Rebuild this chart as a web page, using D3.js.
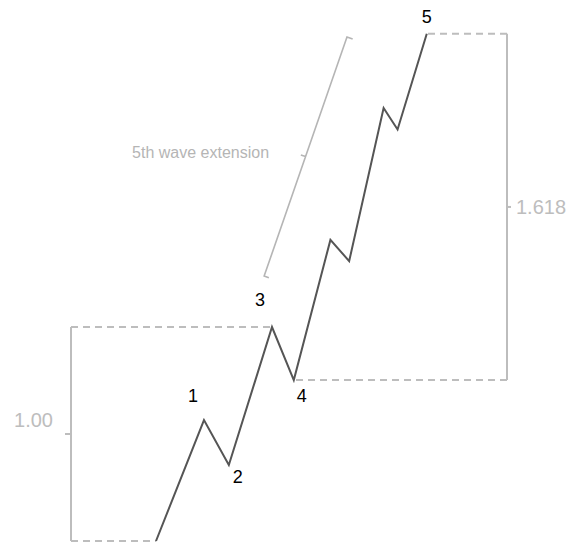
<!DOCTYPE html>
<html>
<head>
<meta charset="utf-8">
<script src="https://d3js.org/d3.v7.min.js"></script>
<style>
    body { margin: 0; background: #fff; }
    svg { display: block; font-family: "Liberation Sans", Arial, sans-serif; }
</style>
</head>
<body>
<svg width="570" height="545"></svg>
<script>
// wave pivots: time (arbitrary units) and price (in units of wave 1-3 length)
var waveTime = [19.5, 30.5, 36.2, 46.1, 51.1, 59.5, 63.8, 71.7, 74.9, 81.6];
var wavePrice = [0, 0.565, 0.355, 1.0, 0.752, 1.407, 1.308, 2.023, 1.923, 2.370];
var waveNames = ["", "1", "2", "3", "4", "", "", "", "", "5"];

// fibonacci brackets: time of bracket, from pivot, to pivot, label
var ratioTime = [0, 100];
var ratioFrom = [0, 4];
var ratioTo = [3, 9];
var ratioLabels = ["1.00", "1.618"];

// extension brace, in time / price
var extTime = [44.3, 63.3];
var extPrice = [1.238, 2.355];
var extLabel = "5th wave extension";

var svg = d3.select("svg");

var x = d3.scaleLinear().domain([0, 100]).range([71, 507]);
var y = d3.scaleLinear().domain([0, 1]).range([541, 327]);

var points = waveTime.map(function (t, i) {
    return {x: x(t), y: y(wavePrice[i]), name: waveNames[i]};
});

// dashed guides from the brackets to the pivots
var guides = [];
ratioTime.forEach(function (t, i) {
    guides.push({x1: x(t), y1: points[ratioFrom[i]].y, x2: points[ratioFrom[i]].x});
    guides.push({x1: x(t), y1: points[ratioTo[i]].y, x2: points[ratioTo[i]].x});
});

svg.append("g")
    .selectAll("line")
    .data(guides)
    .enter().append("line")
    .attr("x1", function (d) { return d.x1; })
    .attr("x2", function (d) { return d.x2; })
    .attr("y1", function (d) { return d.y1; })
    .attr("y2", function (d) { return d.y1; })
    .attr("stroke", "#bdbdbd")
    .attr("stroke-width", 2)
    .attr("stroke-dasharray", "7,5");

// vertical brackets with a tick in the middle
var brackets = svg.append("g")
    .selectAll("g")
    .data(ratioTime)
    .enter().append("g");

brackets.append("line")
    .attr("x1", function (d) { return x(d); })
    .attr("x2", function (d) { return x(d); })
    .attr("y1", function (d, i) { return points[ratioFrom[i]].y; })
    .attr("y2", function (d, i) { return points[ratioTo[i]].y; })
    .attr("stroke", "#bdbdbd")
    .attr("stroke-width", 2);

brackets.append("line")
    .attr("x1", function (d, i) { return x(d) + (i == 0 ? -6 : 4); })
    .attr("x2", function (d) { return x(d); })
    .attr("y1", function (d, i) { return (points[ratioFrom[i]].y + points[ratioTo[i]].y) / 2; })
    .attr("y2", function (d, i) { return (points[ratioFrom[i]].y + points[ratioTo[i]].y) / 2; })
    .attr("stroke", "#bdbdbd")
    .attr("stroke-width", 2);

brackets.append("text")
    .attr("x", function (d, i) { return i == 0 ? x(d) - 18 : x(d) + 9; })
    .attr("y", function (d, i) {
        var mid = (points[ratioFrom[i]].y + points[ratioTo[i]].y) / 2;
        return i == 0 ? mid - 7 : mid + 7;
    })
    .attr("text-anchor", function (d, i) { return i == 0 ? "end" : "start"; })
    .attr("font-size", 20)
    .attr("fill", "#bdbdbd")
    .text(function (d, i) { return ratioLabels[i]; });

// extension brace: line with hooks pointing at the wave, tick pointing at the text
var ax = x(extTime[0]), ay = y(extPrice[0]),
    bx = x(extTime[1]), by = y(extPrice[1]);
var len = Math.sqrt((bx - ax) * (bx - ax) + (by - ay) * (by - ay));
var nx = -(by - ay) / len, ny = (bx - ax) / len;
var mx = (ax + bx) / 2, my = (ay + by) / 2;

var brace = d3.path();
brace.moveTo(ax + nx * 5, ay + ny * 5);
brace.lineTo(ax, ay);
brace.lineTo(bx, by);
brace.lineTo(bx + nx * 6, by + ny * 6);
brace.moveTo(mx, my);
brace.lineTo(mx - nx * 5, my - ny * 5);

svg.append("path")
    .attr("d", brace.toString())
    .attr("fill", "none")
    .attr("stroke", "#b5b5b5")
    .attr("stroke-width", 1.6);

svg.append("text")
    .attr("x", mx - 105)
    .attr("y", my + 1)
    .attr("text-anchor", "middle")
    .attr("font-size", 16)
    .attr("fill", "#b5b5b5")
    .text(extLabel);

// the wave itself
var line = d3.line()
    .x(function (d) { return d.x; })
    .y(function (d) { return d.y; });

svg.append("path")
    .datum(points)
    .attr("d", line)
    .attr("fill", "none")
    .attr("stroke", "#555")
    .attr("stroke-width", 2)
    .attr("stroke-linejoin", "miter");

var labelOffset = {"1": [-11, -18], "2": [9, 18], "3": [-12, -21], "4": [8, 22], "5": [0, -11]};

svg.append("g")
    .selectAll("text")
    .data(points.filter(function (d) { return d.name != ""; }))
    .enter().append("text")
    .attr("x", function (d) { return d.x + labelOffset[d.name][0]; })
    .attr("y", function (d) { return d.y + labelOffset[d.name][1]; })
    .attr("text-anchor", "middle")
    .attr("font-size", 18)
    .attr("fill", "#000")
    .text(function (d) { return d.name; });
</script>
</body>
</html>
